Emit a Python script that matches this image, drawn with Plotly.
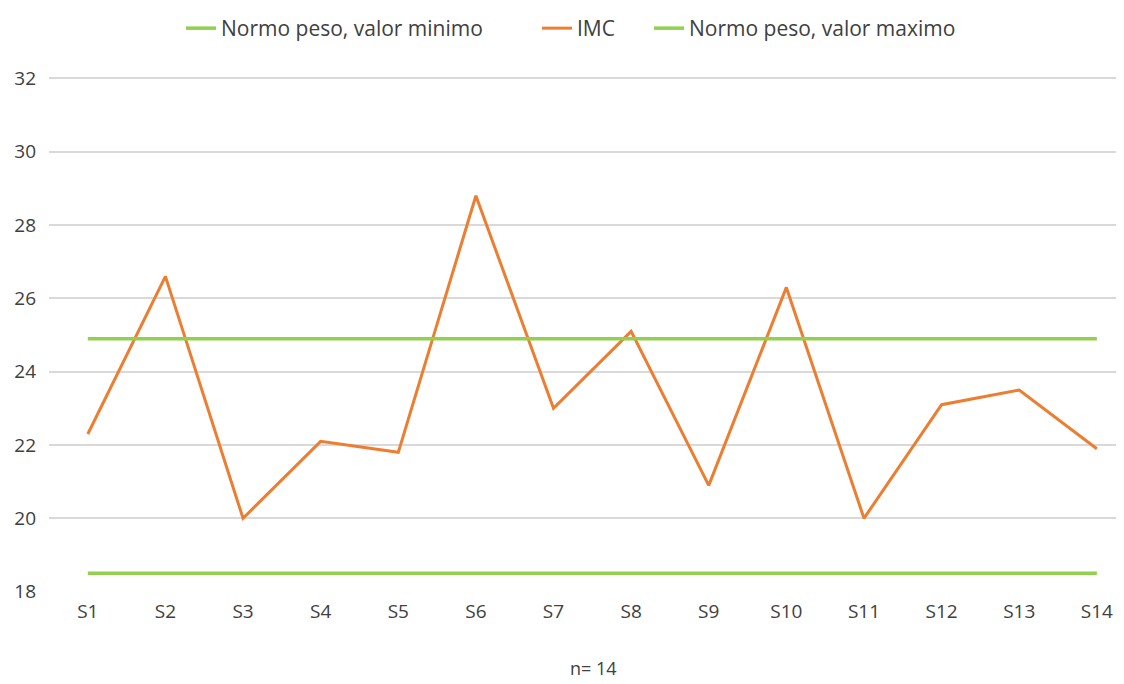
import plotly.graph_objects as go

sujetos = ['S1', 'S2', 'S3', 'S4', 'S5', 'S6', 'S7', 'S8', 'S9', 'S10', 'S11', 'S12', 'S13', 'S14']
imc = [22.3, 26.6, 20.0, 22.1, 21.8, 28.8, 23.0, 25.1, 20.9, 26.3, 20.0, 23.1, 23.5, 21.9]
normo_min = [18.5] * 14
normo_max = [24.9] * 14

verde = '#92D050'
naranja = '#ED7D31'
texto = '#404040'

# page body has an 8px margin, so figure coords = screen coords - 8
W, H = 1116, 676
L, T, B = 41, 69, 92
plot_w = W - L
plot_h = H - T - B


def px_x(sx):
    return (sx - 8 - L) / plot_w


def px_y(sy):
    return (H - B - (sy - 8)) / plot_h


fig = go.Figure()
fig.add_trace(go.Scatter(x=sujetos, y=normo_min, mode='lines', name='Normo peso, valor minimo',
                         line=dict(color=verde, width=3.5), legend='legend', showlegend=True))
fig.add_trace(go.Scatter(x=sujetos, y=imc, mode='lines', name='IMC',
                         line=dict(color=naranja, width=3), legend='legend2', showlegend=True))
fig.add_trace(go.Scatter(x=sujetos, y=normo_max, mode='lines', name='Normo peso, valor maximo',
                         line=dict(color=verde, width=3.5), legend='legend3', showlegend=True))

leg = dict(yanchor='middle', xanchor='left', font=dict(size=21, color=texto),
           itemwidth=30, bgcolor='rgba(0,0,0,0)')
fig.update_layout(
    width=W, height=H,
    showlegend=True,
    margin=dict(l=L, r=0, t=T, b=B),
    paper_bgcolor='white', plot_bgcolor='white',
    font=dict(family='Open Sans, Noto Sans, sans-serif', size=19, color=texto),
    legend=dict(leg, x=px_x(181), y=px_y(28)),
    legend2=dict(leg, x=px_x(537), y=px_y(28)),
    legend3=dict(leg, x=px_x(649), y=px_y(28)),
    annotations=[dict(text='n= 14', x=px_x(593), xref='paper', y=px_y(682), yref='paper',
                      yanchor='bottom', xanchor='center',
                      showarrow=False, font=dict(size=18, color=texto))],
)

fig.update_xaxes(type='category', range=[-0.5, 13.35], showgrid=False, showline=False,
                 ticks='', tickfont=dict(size=19, color=texto), zeroline=False,
                 automargin=False, ticklabelstandoff=6)
fig.update_yaxes(range=[17.99, 32.04], dtick=2, showgrid=True, gridcolor='#d9d9d9', gridwidth=1.5,
                 zeroline=False, showline=False, ticks='', ticklabelstandoff=12,
                 automargin=False, tickfont=dict(size=19, color=texto))

fig.write_html("out.html")
